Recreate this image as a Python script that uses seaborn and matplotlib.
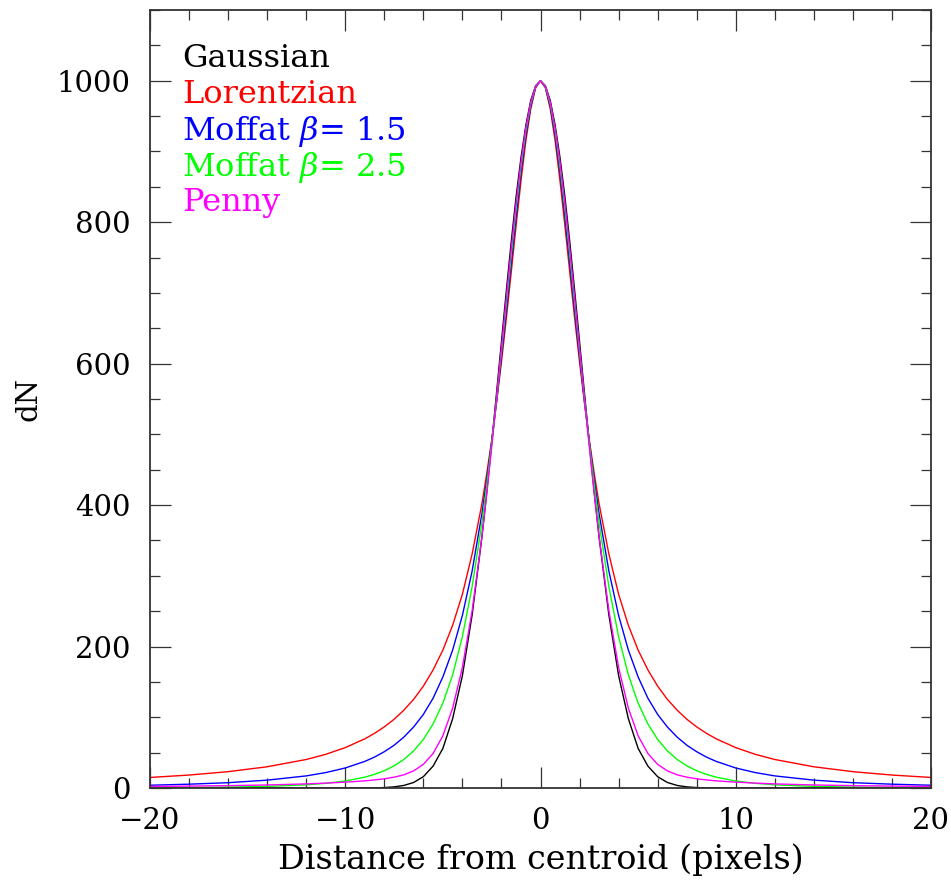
import numpy as np
import pandas as pd
import matplotlib
matplotlib.use("Agg")
import matplotlib.pyplot as plt
import seaborn as sns
from matplotlib.ticker import MultipleLocator

# ---- data (profiles are symmetric about x = 0) ----
x_half = [0, 0.25, 0.5, 0.75, 1, 1.25, 1.5, 1.75, 2, 2.25, 2.5, 2.75, 3, 3.5, 4,
          4.5, 5, 5.5, 6, 6.5, 7, 7.5, 8, 8.5, 9, 10, 11, 12, 14, 16, 18, 20]

gaussian_dn = [1000, 993, 972, 937, 891, 836, 772, 703, 631, 559, 488, 419, 355,
               245, 159, 98, 56, 31, 16, 7.8, 3.6, 1.6, 0.6, 0.25, 0.1,
               0, 0, 0, 0, 0, 0, 0]
lorentzian_dn = [1000, 990, 960, 915, 858, 795, 729, 664, 602, 545, 492, 445, 402,
                 331, 274, 230, 195, 167, 144, 125.3, 110, 97.1, 86.4, 77.3, 69.5,
                 57.1, 47.6, 40.3, 30.0, 23.1, 18.3, 14.9]
moffat15_dn = [1000, 991, 964, 923, 870, 808, 742, 675, 610, 547, 489, 436, 388,
               307, 244, 195, 157, 127, 104, 86.2, 71.9, 60.4, 51.3, 43.7, 37.6,
               28.3, 21.8, 17.1, 11.1, 7.5, 5.4, 3.9]
moffat25_dn = [1000, 992, 967, 929, 878, 819, 753, 685, 617, 550, 487, 429, 375,
               285, 214, 160, 120, 90.6, 68.6, 52.4, 40.3, 31.3, 24.4, 19.3, 15.3,
               9.9, 6.6, 4.5, 2.3, 1.2, 0.7, 0.4]
penny_dn = [1000, 992, 969.5, 933, 884.7, 826.9, 762.3, 693.1, 621.9, 550.9, 481.9,
            416.4, 355.6, 250.9, 170.5, 112.8, 73.8, 48.8, 33.4, 24.2, 18.6, 15.3,
            13.0, 11.4, 10.1, 8.3, 6.9, 5.8, 4.3, 3.3, 2.7, 2.2]

profile_names = ["Gaussian", "Lorentzian", "Moffat 1.5", "Moffat 2.5", "Penny"]
legend_labels = ["Gaussian", "Lorentzian", r"Moffat $\beta$= 1.5",
                 r"Moffat $\beta$= 2.5", "Penny"]
profile_values = [gaussian_dn, lorentzian_dn, moffat15_dn, moffat25_dn, penny_dn]
colors = ["#000000", "#ff0000", "#0000ff", "#00ff00", "#ff00ff"]

x_ticks = [-20, -10, 0, 10, 20]
y_ticks = [0, 200, 400, 600, 800, 1000]

# ---- long-form table ----
rows = []
x_full = [-v for v in reversed(x_half[1:])] + list(x_half)
for name, vals in zip(profile_names, profile_values):
    y_full = list(reversed(vals[1:])) + list(vals)
    for xv, yv in zip(x_full, y_full):
        rows.append({"x": xv, "dN": yv, "profile": name})
df = pd.DataFrame(rows)

# ---- style ----
sns.set_style("ticks")
plt.rcParams["font.family"] = ["DejaVu Serif"]
plt.rcParams["mathtext.fontset"] = "dejavuserif"
plt.rcParams["text.color"] = "black"
plt.rcParams["axes.labelcolor"] = "black"
plt.rcParams["xtick.labelcolor"] = "black"
plt.rcParams["ytick.labelcolor"] = "black"

fig = plt.figure(figsize=(9.51, 8.81), dpi=100)
ax = fig.add_axes([150 / 951, 1 - 788 / 881, 781 / 951, 778 / 881])

sns.lineplot(data=df, x="x", y="dN", hue="profile", hue_order=profile_names,
             palette=dict(zip(profile_names, colors)), estimator=None, sort=False,
             linewidth=1.0, legend=False, ax=ax)

ax.set_xlim(-20, 20)
ax.set_ylim(0, 1100)
ax.set_xticks(x_ticks)
ax.set_yticks(y_ticks)
ax.xaxis.set_minor_locator(MultipleLocator(2))
ax.yaxis.set_minor_locator(MultipleLocator(50))
ax.tick_params(which="both", direction="in", top=True, right=True, width=0.9,
               color="#333333", labelsize=21, labelcolor="black")
ax.tick_params(which="major", length=15, pad=14)
ax.tick_params(which="minor", length=7.5)
for s in ax.spines.values():
    s.set_linewidth(1.3)
    s.set_color("#333333")

ax.set_xlabel("Distance from centroid (pixels)", fontsize=24, labelpad=6,
              color="black")
ax.set_ylabel("dN", fontsize=21, labelpad=10, color="black")

legend_y = [1031, 980, 928, 878, 828]
for lab, col, yy in zip(legend_labels, colors, legend_y):
    ax.text(-18.37, yy, lab, color=col, fontsize=23, va="center", ha="left")

fig.savefig("out.png", dpi=100)
